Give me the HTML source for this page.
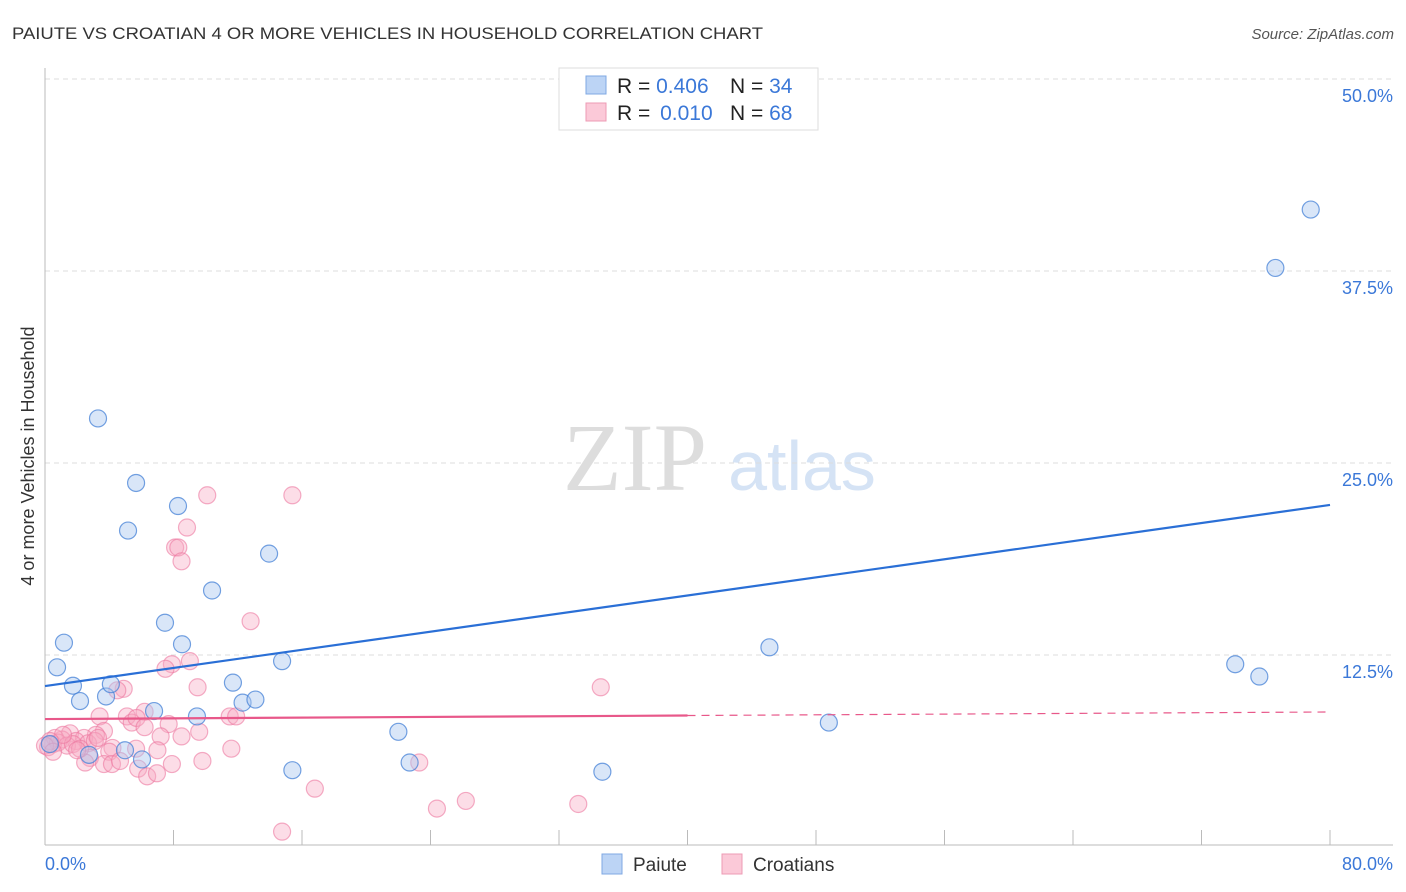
<!DOCTYPE html>
<html><head><meta charset="utf-8"><style>
body{margin:0;background:#fff;font-family:"Liberation Sans",sans-serif;}
svg{display:block}
</style></head><body>
<svg id="chart" width="1406" height="892" xmlns="http://www.w3.org/2000/svg">
<text x="12" y="39" font-size="17" fill="#333" textLength="751" lengthAdjust="spacingAndGlyphs">PAIUTE VS CROATIAN 4 OR MORE VEHICLES IN HOUSEHOLD CORRELATION CHART</text>
<text x="1394" y="39" font-size="15" fill="#555" font-style="italic" text-anchor="end">Source: ZipAtlas.com</text>
<g>
<text x="635" y="490" font-size="96" fill="#ddd" font-family="Liberation Serif,serif" text-anchor="middle">ZIP</text>
<text x="802" y="490" font-size="70" fill="#d5e3f5" text-anchor="middle">atlas</text>
</g>
<g id="grid"></g>
<g id="axes"></g>
<g id="marks"></g>
<text transform="translate(34,456) rotate(-90)" font-size="18" fill="#333" text-anchor="middle">4 or more Vehicles in Household</text>
<text x="45" y="870" font-size="18" fill="#3b78d8">0.0%</text>
<text x="1393" y="870" font-size="18" fill="#3b78d8" text-anchor="end">80.0%</text>
<g>
<rect x="559" y="68" width="259" height="62" fill="#fff" stroke="#ddd"/>
<rect x="586" y="76" width="20" height="18" fill="#bcd4f5" stroke="#7fa8e3"/>
<rect x="586" y="103" width="20" height="18" fill="#fbc9d8" stroke="#ee9bb4"/>
<text x="617" y="93" font-size="21" fill="#222">R = <tspan fill="#3b78d8">0.406</tspan></text>
<text x="730" y="93" font-size="21" fill="#222">N = <tspan fill="#3b78d8">34</tspan></text>
<text x="617" y="120" font-size="21" fill="#222">R = <tspan fill="#3b78d8" dx="4">0.010</tspan></text>
<text x="730" y="120" font-size="21" fill="#222">N = <tspan fill="#3b78d8">68</tspan></text>
</g>
<g>
<rect x="602" y="854" width="20" height="20" fill="#bcd4f5" stroke="#7fa8e3"/>
<text x="633" y="871" font-size="19" fill="#333">Paiute</text>
<rect x="722" y="854" width="20" height="20" fill="#fbc9d8" stroke="#ee9bb4"/>
<text x="753" y="871" font-size="19" fill="#333">Croatians</text>
</g>
</svg>
<script>
const yTicks=[12.5,25,37.5,50];
const yTickLabels=["12.5%","25.0%","37.5%","50.0%"];
const xTicks=[0,8,16,24,32,40,48,56,64,72,80];
const paiuteX=[3.3,5.67,5.17,8.28,13.95,10.4,7.47,8.53,1.18,0.75,1.74,2.18,3.8,4.1,6.79,9.46,11.7,12.3,13.1,14.76,4.98,6.04,2.74,0.3,15.4,22.7,22.0,34.7,45.1,48.8,74.1,75.6,76.6,78.8];
const paiuteY=[27.9,23.7,20.6,22.2,19.1,16.7,14.6,13.2,13.3,11.7,10.5,9.5,9.8,10.6,8.85,8.5,10.7,9.4,9.6,12.1,6.3,5.7,6.0,6.7,5.0,5.5,7.5,4.9,13.0,8.1,11.9,11.1,37.7,41.5];
const croX=[10.1,15.4,8.84,8.1,8.3,8.5,12.8,9.02,7.9,7.5,9.5,4.9,4.5,34.6,11.5,11.9,3.4,5.1,6.2,5.4,5.7,7.7,6.2,9.6,7.2,8.5,3.67,3.17,1.56,2.43,1.06,1.93,0.5,0.19,2.68,4.2,4.0,5.67,7.0,11.6,2.8,2.5,3.67,4.17,4.67,5.8,6.36,6.97,7.9,9.8,23.3,16.8,24.4,26.2,33.2,14.76,0.62,0.81,1.37,1.74,2.18,3.1,3.3,1.12,0.31,0.0,0.5,2.0];
const croY=[22.9,22.9,20.8,19.5,19.5,18.6,14.7,12.1,11.9,11.6,10.4,10.3,10.2,10.4,8.5,8.5,8.5,8.5,8.8,8.1,8.4,8.0,7.8,7.5,7.2,7.2,7.55,7.3,7.4,7.1,7.0,6.9,6.7,6.5,6.75,6.45,6.2,6.4,6.3,6.4,5.8,5.5,5.4,5.4,5.6,5.1,4.6,4.8,5.4,5.6,5.5,3.8,2.5,3.0,2.8,1.0,7.1,6.8,6.6,6.7,6.4,6.9,7.1,7.3,6.9,6.6,6.2,6.3];
const paiuteTrend=[10.48,22.27];
const croTrend=[8.33,8.79];
const NS="http://www.w3.org/2000/svg";
const X0=45,X1=1330,Y0=847,PXY=192/12.5;
const sx=v=>X0+(v/80)*(X1-X0);
const sy=v=>Y0-v*PXY;
function mk(tag,attrs,parent){const e=document.createElementNS(NS,tag);for(const k in attrs)e.setAttribute(k,attrs[k]);parent.appendChild(e);return e;}
const grid=document.getElementById('grid'),axes=document.getElementById('axes'),marks=document.getElementById('marks');
yTicks.forEach((t,i)=>{
 const l=mk('line',{x1:45,x2:1393,y1:sy(t),y2:sy(t),stroke:'#ddd','stroke-dasharray':'5,4'},grid);
 
 
 const tx=mk('text',{x:1393,y:sy(t)+23,'font-size':18,fill:'#3b78d8','text-anchor':'end'},grid);
 tx.textContent=yTickLabels[i];
 
 
});
const ax=mk('line',{x1:45,x2:45,y1:68,y2:845,stroke:'#bbb'},axes);


const bx=mk('line',{x1:45,x2:1393,y1:845,y2:845,stroke:'#bbb'},axes);


xTicks.forEach(t=>{
 const l=mk('line',{x1:sx(t),x2:sx(t),y1:830,y2:845,stroke:'#bbb'},axes);
 
 
});
croX.forEach((x,i)=>{
 const c=mk('circle',{cx:sx(x),cy:sy(croY[i]),r:8.5,fill:'rgba(248,170,195,0.4)',stroke:'rgba(236,120,160,0.6)','stroke-width':1.2},marks);
 
 
});
paiuteX.forEach((x,i)=>{
 const c=mk('circle',{cx:sx(x),cy:sy(paiuteY[i]),r:8.5,fill:'rgba(170,200,240,0.45)',stroke:'rgba(70,130,215,0.75)','stroke-width':1.2},marks);
 
 
});
const pt=mk('line',{x1:sx(0),y1:sy(paiuteTrend[0]),x2:sx(80),y2:sy(paiuteTrend[1]),stroke:'#2a6fd6','stroke-width':2.2},marks);


const cm=croTrend[0]+(croTrend[1]-croTrend[0])*(40/80);
const ct=mk('line',{x1:sx(0),y1:sy(croTrend[0]),x2:sx(40),y2:sy(cm),stroke:'#e8588a','stroke-width':2.2},marks);


const cd=mk('line',{x1:sx(40),y1:sy(cm),x2:sx(80),y2:sy(croTrend[1]),stroke:'#e8588a','stroke-width':1.2,'stroke-dasharray':'8,6'},marks);


</script>
</body></html>
